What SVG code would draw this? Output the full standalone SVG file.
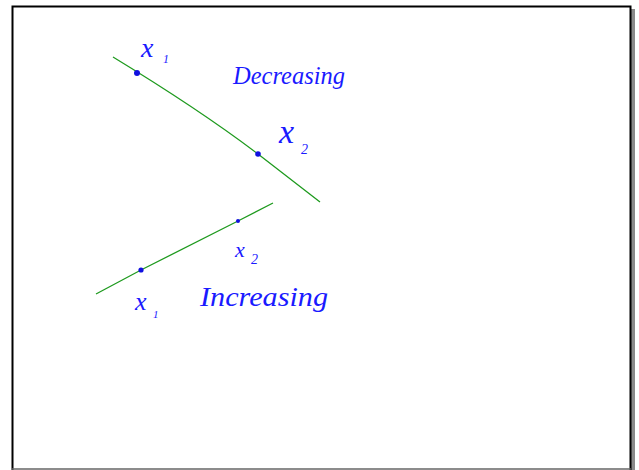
<svg xmlns="http://www.w3.org/2000/svg" width="639" height="470" viewBox="0 0 639 470">
<style>
.hw{font-family:"Liberation Serif","DejaVu Serif",serif;font-style:italic;fill:#1a1aff;}
.ln{fill:none;stroke:#1e9a1e;stroke-width:1.3;}
.dot{fill:#1010e0;}
</style>
<rect x="0" y="0" width="639" height="470" fill="#ffffff"/>
<g id="frame">
<rect x="631" y="9" width="4" height="461" fill="#8a8a8a"/>
<path d="M12.5,470 V6.5 H630.5 V470" fill="none" stroke="#000" stroke-width="2"/>
<line x1="12" y1="469" x2="631" y2="469" stroke="#666" stroke-width="1.5"/>
</g>
<g id="decreasing">
<path class="ln" d="M113,57 Q200,110 258,154 L320,202"/>
<circle class="dot" cx="137" cy="73" r="3"/>
<circle class="dot" cx="258" cy="154" r="2.8"/>
<text class="hw" x="141" y="57" font-size="28">x</text>
<text class="hw" x="163" y="63" font-size="12">1</text>
<text class="hw" x="279" y="143" font-size="34">x</text>
<text class="hw" x="301" y="154" font-size="14">2</text>
<text class="hw" x="233" y="84" font-size="26" textLength="112" lengthAdjust="spacingAndGlyphs">Decreasing</text>
</g>
<g id="increasing">
<path class="ln" d="M96,294 L141,270 L238,221 L273,203"/>
<circle class="dot" cx="141" cy="270" r="2.6"/>
<circle class="dot" cx="238" cy="221" r="2"/>
<text class="hw" x="235" y="257" font-size="22">x</text>
<text class="hw" x="251" y="264" font-size="14">2</text>
<text class="hw" x="135" y="310" font-size="26">x</text>
<text class="hw" x="153" y="318" font-size="11">1</text>
<text class="hw" x="200" y="306" font-size="28" textLength="128" lengthAdjust="spacingAndGlyphs">Increasing</text>
</g>
</svg>
